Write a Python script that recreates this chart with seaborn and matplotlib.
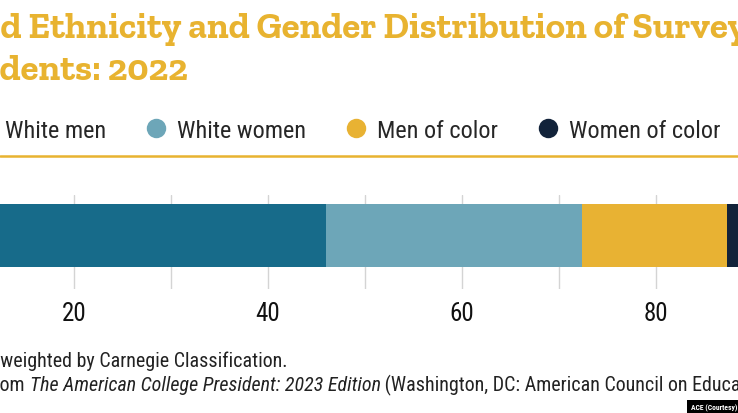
import numpy as np
import pandas as pd
import matplotlib.pyplot as plt
import seaborn as sns
from matplotlib.lines import Line2D
from matplotlib.ticker import MultipleLocator
from matplotlib import font_manager as fm

# доли президентов по группам, %
groups = ["White men", "White women", "Men of color", "Women of color"]
shares = [46.0, 26.4, 14.9, 12.7]
colors = ["#176b8a", "#6da6b8", "#e8b233", "#12233a"]
bar_label = "Presidents"

title_lines = ["Race and Ethnicity and Gender Distribution of Surveyed", "Presidents: 2022"]
title_cut = ["Race an", "Presi"]
note_lines = ["Note: Data weighted by Carnegie Classification."]
note_cut = ["Note: Data "]

GOLD = "#e8b330"

have = {f.name for f in fm.fontManager.ttflist}


def pick(*cands):
    for c in cands:
        if c in have:
            return c
    return "DejaVu Sans"


COND = pick("Roboto Condensed", "Liberation Sans Narrow", "Archivo Narrow", "Roboto")
SLAB = pick("Roboto Slab", "Zilla Slab", "DejaVu Serif")

df = pd.DataFrame({"group": groups, "share": shares, "color": colors})
df["cum"] = df["share"].cumsum()

sns.set_style("white")
plt.rcParams["font.family"] = [COND, "DejaVu Sans"]

fig = plt.figure(figsize=(7.38, 4.14), dpi=100)
W, H = 738, 414
ax = fig.add_axes([-120 / W, 1 - 290 / H, 970 / W, 94 / H])

# накопленные суммы, рисуем от большей к меньшей
for _, row in df[::-1].iterrows():
    sns.barplot(x=[row["cum"]], y=[bar_label], color=row["color"], saturation=1,
                width=1, orient="h", ax=ax, linewidth=0)

ax.set_xlim(0, 100)
ax.set_ylim(0.5 + 22 / 63, -0.5 - 9 / 63)
ax.xaxis.set_minor_locator(MultipleLocator(10))
ax.grid(axis="x", which="both", color="#d4d4d4", lw=1)
ax.set_axisbelow(True)
ax.set_yticks([])
ax.set_xlabel("")
ax.set_ylabel("")
ax.set_xticks([20, 40, 60, 80])
ax.tick_params(axis="x", which="both", length=0, pad=9, labelsize=18, labelcolor="#111111")
for s in ax.spines.values():
    s.set_visible(False)

renderer = fig.canvas.get_renderer()


def cut_text(full, cut, y, **kw):
    probe = fig.text(0, y, cut, **kw)
    w = probe.get_window_extent(renderer).width
    probe.remove()
    return fig.text(-w / W, y, full, va="baseline", **kw)


tkw = dict(fontsize=26.5, fontweight="bold", color=GOLD, family=[SLAB, "DejaVu Serif"])
cut_text(title_lines[0], title_cut[0], 1 - 38 / H, **tkw)
cut_text(title_lines[1], title_cut[1], 1 - 80 / H, **tkw)

handles = [Line2D([], [], ls="", marker="o", markersize=14, markerfacecolor=c, markeredgewidth=0)
           for c in colors]
fig.legend(handles, groups, loc="center left", bbox_to_anchor=(-29 / W, 1 - 131 / H),
           ncol=4, frameon=False, fontsize=17.5, handlelength=1.05, handletextpad=0.35,
           columnspacing=1.52, borderpad=0, borderaxespad=0)

fig.add_artist(Line2D([0, 1], [1 - 157 / H, 1 - 157 / H], color=GOLD, lw=1.8))

nkw = dict(fontsize=14.4, color="#222222")
cut_text(note_lines[0], note_cut[0], 1 - 367 / H, **nkw)

src = cut_text("Source: Data from ", "Source: Data fr", 1 - 391 / H, **nkw)
src_bb = src.get_window_extent(renderer)
ital = fig.text(src_bb.x1 / W, 1 - 391 / H, "The American College President: 2023 Edition",
                style="italic", va="baseline", **nkw)
it_bb = ital.get_window_extent(renderer)
fig.text(it_bb.x1 / W, 1 - 391 / H,
         " (Washington, DC: American Council on Education, 2023).", va="baseline", **nkw)

fig.text(0.999, 0.004, "ACE (Courtesy)", ha="right", va="bottom", fontsize=5.5,
         fontweight="bold", color="white", family=[COND, "DejaVu Sans"],
         bbox=dict(facecolor="black", edgecolor="none", pad=2.5))

fig.savefig("out.png", dpi=100)
